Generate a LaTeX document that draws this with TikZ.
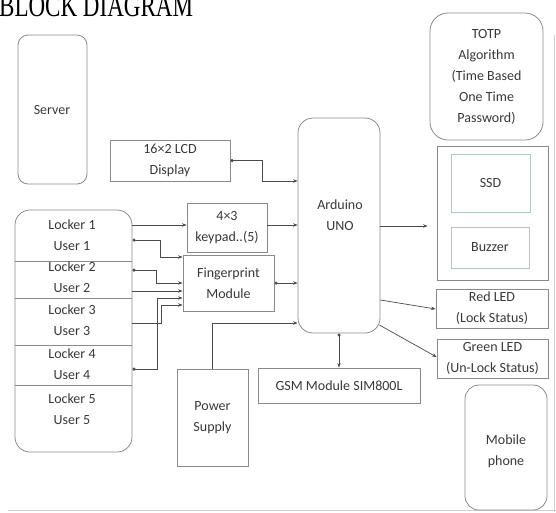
\documentclass[tikz,border=0pt]{standalone}
\usepackage{fontspec}
\setmainfont{Carlito}
\newfontfamily\titlefont{Liberation Serif}
\usetikzlibrary{arrows.meta}
\definecolor{boxgray}{HTML}{8A8A8A}
\definecolor{linegray}{HTML}{4A4A4A}
\definecolor{innercyan}{HTML}{B3C6C6}
\definecolor{framegray}{HTML}{CFCFCF}
\definecolor{txtgray}{HTML}{383838}
\newcommand\lblfont{\fontsize{14}{21}\selectfont}
\begin{document}
\begin{tikzpicture}[x=1pt,y=-1pt,
  box/.style={draw=boxgray, line width=0.8pt, inner sep=0pt, align=center, font=\lblfont, text=txtgray},
  innerbox/.style={box, draw=innercyan},
  txt/.style={inner sep=0pt, align=center, font=\lblfont, text=txtgray},
  conn/.style={draw=linegray, line width=0.7pt, -{Stealth[length=4.5pt,width=3.5pt]}},
  bi/.style={conn, {Circle[length=3.2pt]}-{Stealth[length=4.5pt,width=3.5pt]}},
  divider/.style={draw=boxgray, line width=0.8pt}]
\useasboundingbox (0,0) rectangle (556,512);

% title (top cut off)
\node[anchor=base west, inner sep=0pt, font=\titlefont\fontsize{32}{32}\selectfont, xscale=0.72] (title) at (-1,16) {BLOCK DIAGRAM};

% frame lines
\draw[framegray, line width=1.5pt] (8,510.5) -- (556,510.5);
\draw[framegray, line width=1pt] (554,35) -- (554,512);

% boxes
\node[box, minimum width=69pt, minimum height=149pt, rounded corners=10pt] (server) at (52.5,109.5) {};
\node[txt] (servertxt) at (52,110) {Server};
\node[box, minimum width=120pt, minimum height=41pt] (lcd) at (170,160.5) {16×2 LCD\\Display};
\node[box, minimum width=82pt, minimum height=215pt, rounded corners=15pt] (ard) at (339,225.5) {};
\node[txt] (ardtxt) at (340,215) {Arduino\\UNO};
\node[box, minimum width=113pt, minimum height=127pt, rounded corners=18pt] (totp) at (486.5,76.5) {TOTP\\Algorithm\\(Time Based\\One Time\\Password)};
\node[box, minimum width=111pt, minimum height=134pt] (outer) at (492.5,213) {};
\node[innerbox, minimum width=79pt, minimum height=58pt] (ssd) at (490.5,183) {SSD};
\node[innerbox, minimum width=78pt, minimum height=41pt] (buzzer) at (490,247.5) {Buzzer};
\node[box, minimum width=112pt, minimum height=39pt] (red) at (492,308.5) {Red LED\\(Lock Status)};
\node[box, minimum width=111pt, minimum height=39pt] (green) at (492.5,358.5) {Green LED\\(Un-Lock Status)};
\node[box, minimum width=82pt, minimum height=125pt, rounded corners=14pt] (mobile) at (506,447.5) {};
\node[txt] (mobiletxt) at (506,451) {Mobile\\phone};
\node[box, minimum width=80pt, minimum height=49pt] (keypad) at (227,227.5) {4×3\\keypad..(5)};
\node[box, minimum width=91pt, minimum height=56pt] (fp) at (228.5,283) {Fingerprint\\Module};
\node[box, minimum width=71pt, minimum height=97pt] (power) at (212.5,417.5) {Power\\Supply};
\node[box, minimum width=162pt, minimum height=35pt] (gsm) at (339,385.5) {GSM Module SIM800L};

% locker column
\node[box, minimum width=117pt, minimum height=242pt, rounded corners=15pt] (locker) at (73.5,331) {};
\draw[divider] (locker.west |- 0,261) -- (locker.east |- 0,261);
\draw[divider] (locker.west |- 0,298) -- (locker.east |- 0,298);
\draw[divider] (locker.west |- 0,345) -- (locker.east |- 0,345);
\draw[divider] (locker.west |- 0,385) -- (locker.east |- 0,385);
\node[txt] (l1) at (72,235) {Locker 1\\User 1};
\node[txt] (l2) at (72,277.5) {Locker 2\\User 2};
\node[txt] (l3) at (72,320.5) {Locker 3\\User 3};
\node[txt] (l4) at (72,364) {Locker 4\\User 4};
\node[txt] (l5) at (72,409) {Locker 5\\User 5};

% connectors
\draw[bi] (lcd.east) -- (262,160.5) -- (262,181) -- (ard.west |- 0,181);
\draw[conn] (locker.east |- 0,225) -- (keypad.west |- 0,225);
\draw[conn] (keypad.east |- 0,225) -- (ard.west |- 0,225);
\draw[bi] (locker.east |- 0,240) -- (160,240) -- (160,257) -- (fp.west |- 0,257);
\draw[bi] (locker.east |- 0,270) -- (156,270) -- (156,283) -- (fp.west |- 0,283);
\draw[conn] (locker.east |- 0,291) -- (fp.west |- 0,291);
\draw[bi] (locker.east |- 0,369) -- (157,369) -- (157,298) -- (fp.west |- 0,298);
\draw[conn] (locker.east |- 0,323) -- (161,323) -- (161,305) -- (fp.west |- 0,305);
\draw[bi] (fp.east) -- (ard.west |- fp.east);
\draw[conn] (power.north) -- (power.north |- 0,323) -- (ard.west |- 0,323);
\draw[bi] (ard.south) -- (gsm.north);
\draw[conn, shorten >=9pt] (ard.east |- 0,226) -- (outer.west |- 0,226);
\draw[conn] (ard.east |- 0,300) -- (red.west |- 0,309);
\draw[conn] ([xshift=-1pt]ard.east |- 0,325) -- (green.west |- 0,357);
\end{tikzpicture}
\end{document}
